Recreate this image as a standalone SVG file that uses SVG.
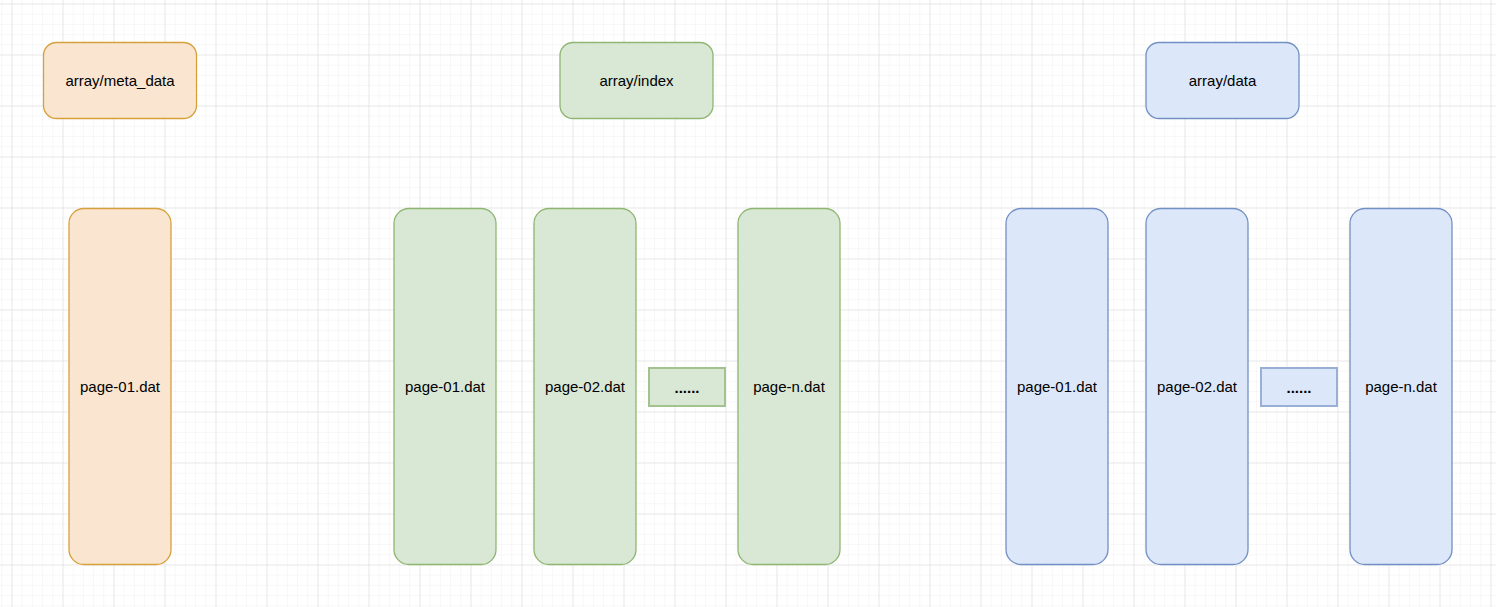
<svg xmlns="http://www.w3.org/2000/svg" width="1496" height="607" viewBox="0 0 1496 607">
<defs>
<pattern id="minor" x="11.5" y="3.5" width="10.2" height="10.2" patternUnits="userSpaceOnUse">
<path d="M0 0H10.2M0 0V10.2" fill="none" stroke="#f0f0f0" stroke-width="1"/>
</pattern>
<pattern id="major" x="11.5" y="3.5" width="51" height="51" patternUnits="userSpaceOnUse">
<path d="M0 0H51M0 0V51" fill="none" stroke="#d9d9d9" stroke-width="1"/>
</pattern>
<style>
text{font-family:"Liberation Sans",Arial,Helvetica,sans-serif;font-size:15px;fill:#000;text-anchor:middle;dominant-baseline:central}
.o{fill:#fae6d0;stroke:#d6a13a;stroke-width:1.3}
.g{fill:#d9e7d5;stroke:#8fb672;stroke-width:1.3}
.b{fill:#dce7fa;stroke:#7390c4;stroke-width:1.3}
.gd{fill:#d9e7d5;stroke:#a2c38f;stroke-width:2}
.bd{fill:#dce7fa;stroke:#99afd6;stroke-width:2}
.dots{font-weight:bold}
</style>
</defs>
<rect width="1496" height="607" fill="#ffffff"/>
<rect width="1496" height="607" fill="url(#minor)"/>
<rect width="1496" height="607" fill="url(#major)"/>
<g id="connectors"></g>
<g id="meta-head"><rect class="o" x="43.5" y="42.5" width="153" height="76" rx="13"/><text x="120" y="80">array/meta_data</text></g>
<g id="index-head"><rect class="g" x="560" y="42.5" width="153" height="76" rx="13"/><text x="636.5" y="80">array/index</text></g>
<g id="data-head"><rect class="b" x="1146" y="42.5" width="153" height="76" rx="13"/><text x="1222.5" y="80">array/data</text></g>
<g id="meta-p1"><rect class="o" x="69" y="208.5" width="102" height="356" rx="15"/><text x="120" y="386">page-01.dat</text></g>
<g id="index-p1"><rect class="g" x="394" y="208.5" width="102" height="356" rx="15"/><text x="445" y="386">page-01.dat</text></g>
<g id="index-p2"><rect class="g" x="534" y="208.5" width="102" height="356" rx="15"/><text x="585" y="386">page-02.dat</text></g>
<g id="index-dots"><rect class="gd" x="649" y="368" width="76" height="38"/><text class="dots" x="687" y="387">......</text></g>
<g id="index-pn"><rect class="g" x="738" y="208.5" width="102" height="356" rx="15"/><text x="789" y="386">page-n.dat</text></g>
<g id="data-p1"><rect class="b" x="1006" y="208.5" width="102" height="356" rx="15"/><text x="1057" y="386">page-01.dat</text></g>
<g id="data-p2"><rect class="b" x="1146" y="208.5" width="102" height="356" rx="15"/><text x="1197" y="386">page-02.dat</text></g>
<g id="data-dots"><rect class="bd" x="1261" y="368" width="76" height="38"/><text class="dots" x="1299" y="387">......</text></g>
<g id="data-pn"><rect class="b" x="1350" y="208.5" width="102" height="356" rx="15"/><text x="1401" y="386">page-n.dat</text></g>
</svg>
